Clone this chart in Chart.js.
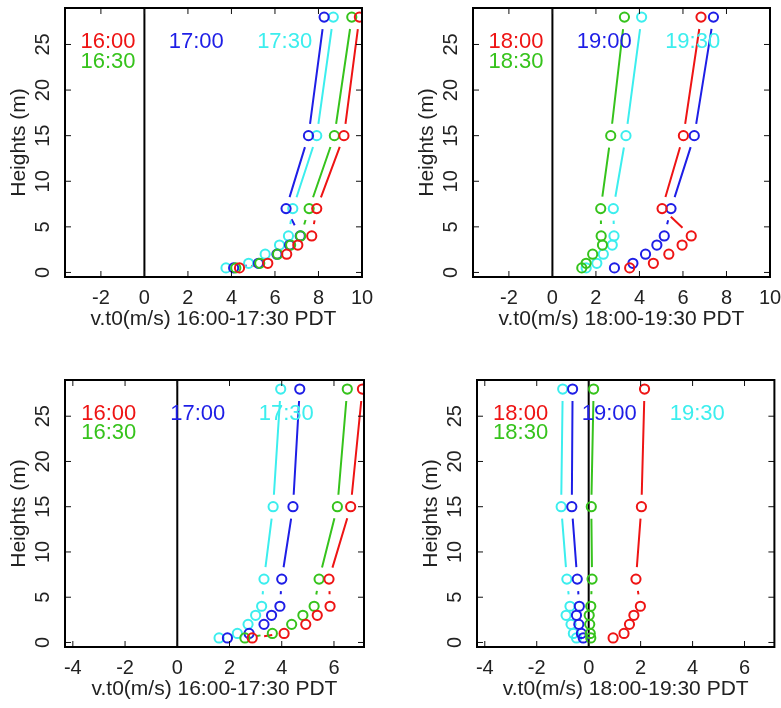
<!DOCTYPE html>
<html>
<head>
<meta charset="utf-8">
<script src="https://cdn.jsdelivr.net/npm/chart.js@4.4.1/dist/chart.umd.min.js"></script>
<style>
  html, body { margin: 0; padding: 0; background: #fff; }
  #wrap { position: relative; width: 781px; height: 708px; }
  canvas { position: absolute; }
</style>
</head>
<body>
<div id="wrap">
  <canvas id="p1" width="390" height="354" style="left:0;top:0"></canvas>
  <canvas id="p2" width="391" height="354" style="left:390px;top:0"></canvas>
  <canvas id="p3" width="390" height="354" style="left:0;top:354px"></canvas>
  <canvas id="p4" width="391" height="354" style="left:390px;top:354px"></canvas>
</div>
<script>
// measurement heights (m)
const heights = [0.5, 1, 2, 3, 4, 7, 15, 28];
const yTicks = [0, 5, 10, 15, 20, 25];
const xTicksTop = [-2, 0, 2, 4, 6, 8, 10];
const xTicksBottom = [-4, -2, 0, 2, 4, 6];

const namesEarly = ['16:00', '16:30', '17:00', '17:30'];
const namesLate = ['18:00', '18:30', '19:00', '19:30'];
const colors = ['#ee1414', '#36c31c', '#1e1ee6', '#3ceeee'];

// top row, v.t0 (m/s)
const a1600 = [4.37, 5.67, 6.54, 7.05, 7.69, 7.92, 9.17, 9.88];
const a1630 = [4.2, 5.3, 6.12, 6.72, 7.18, 7.57, 8.73, 9.53];
const a1700 = [4.1, 5.24, 6.09, 6.67, 7.16, 6.51, 7.54, 8.26];
const a1730 = [3.75, 4.79, 5.55, 6.21, 6.62, 6.82, 7.92, 8.68];

const b1800 = [3.55, 4.64, 5.35, 5.96, 6.38, 5.04, 6.02, 6.83];
const b1830 = [1.35, 1.55, 1.85, 2.3, 2.24, 2.22, 2.68, 3.31];
const b1900 = [2.85, 3.7, 4.28, 4.8, 5.14, 5.45, 6.52, 7.4];
const b1930 = [1.55, 2.04, 2.34, 2.75, 2.83, 2.8, 3.38, 4.1];

// bottom row
const c1600 = [2.87, 4.09, 4.92, 5.36, 5.85, 5.81, 6.64, 7.09];
const c1630 = [2.59, 3.64, 4.38, 4.81, 5.24, 5.43, 6.13, 6.51];
const c1700 = [1.92, 2.75, 3.32, 3.61, 3.93, 4.0, 4.43, 4.69];
const c1730 = [1.6, 2.3, 2.71, 3.0, 3.23, 3.32, 3.67, 3.96];

const d1800 = [0.94, 1.36, 1.57, 1.74, 1.99, 1.82, 2.03, 2.15];
const d1830 = [0.08, 0.06, 0.04, 0.02, 0.08, 0.13, 0.1, 0.19];
const d1900 = [-0.21, -0.28, -0.38, -0.47, -0.36, -0.44, -0.65, -0.62];
const d1930 = [-0.47, -0.59, -0.68, -0.87, -0.72, -0.84, -1.06, -1.0];

// where the time labels sit, in data units
const labelXTop = [-2.94, -2.94, 1.12, 5.18];
const labelXBottom = [-3.68, -3.68, -0.27, 3.12];
const labelY = [25.3, 23.1, 25.3, 25.3];

const FONT = '"Liberation Sans", Arial, Helvetica, sans-serif';
const GAP = 12;

// gnuplot-like frame, inward ticks, zero line, gapped segments, labels
const panelPlugin = {
  id: 'panel',
  beforeDatasetsDraw(chart) {
    const {ctx, chartArea: a, scales: {x}} = chart;
    ctx.save();
    ctx.beginPath();
    ctx.rect(a.left, a.top, a.right - a.left, a.bottom - a.top);
    ctx.clip();
    const x0 = x.getPixelForValue(0);
    ctx.strokeStyle = '#000';
    ctx.lineWidth = 2;
    ctx.beginPath();
    ctx.moveTo(x0, a.top);
    ctx.lineTo(x0, a.bottom);
    ctx.stroke();
    chart.data.datasets.forEach((ds, i) => {
      const pts = chart.getDatasetMeta(i).data;
      ctx.strokeStyle = ds.borderColor;
      ctx.lineWidth = 2;
      ctx.beginPath();
      for (let k = 0; k < pts.length - 1; k++) {
        const p = pts[k], q = pts[k + 1];
        const dx = q.x - p.x, dy = q.y - p.y;
        const d = Math.hypot(dx, dy);
        if (d <= 2 * GAP + 1) continue;
        const ux = dx / d, uy = dy / d;
        ctx.moveTo(p.x + ux * GAP, p.y + uy * GAP);
        ctx.lineTo(q.x - ux * GAP, q.y - uy * GAP);
      }
      ctx.stroke();
    });
    ctx.restore();
  },
  afterDatasetsDraw(chart, args, opts) {
    const {ctx, chartArea: a, scales: {x, y}} = chart;
    ctx.save();
    ctx.strokeStyle = '#111';
    ctx.lineWidth = 1;
    ctx.beginPath();
    x.ticks.forEach(t => {
      const px = x.getPixelForValue(t.value);
      ctx.moveTo(px, a.bottom); ctx.lineTo(px, a.bottom - 6);
      ctx.moveTo(px, a.top); ctx.lineTo(px, a.top + 6);
    });
    y.ticks.forEach(t => {
      const py = y.getPixelForValue(t.value);
      ctx.moveTo(a.left, py); ctx.lineTo(a.left + 6, py);
      ctx.moveTo(a.right, py); ctx.lineTo(a.right - 6, py);
    });
    ctx.stroke();
    ctx.strokeStyle = '#000';
    ctx.lineWidth = 2;
    ctx.strokeRect(a.left, a.top, a.right - a.left, a.bottom - a.top);

    ctx.font = '22px ' + FONT;
    ctx.textAlign = 'left';
    ctx.textBaseline = 'middle';
    opts.names.forEach((n, i) => {
      ctx.fillStyle = colors[i];
      ctx.fillText(n, x.getPixelForValue(opts.lx[i]), y.getPixelForValue(labelY[i]));
    });
    ctx.restore();
  }
};

function makePanel(id, series, names, xMin, xMax, xTickVals, lx, xTitle, box) {
  const datasets = series.map((vals, i) => ({
    label: names[i],
    data: vals.map((v, k) => ({x: v, y: heights[k]})),
    borderColor: colors[i],
    backgroundColor: 'rgba(0,0,0,0)',
    pointRadius: 4.6,
    pointBorderWidth: 2,
    showLine: false
  }));
  return new Chart(document.getElementById(id), {
    type: 'scatter',
    data: {datasets},
    options: {
      responsive: false,
      animation: false,
      devicePixelRatio: 1,
      layout: {
        padding: {
          left: box.left - 60,
          right: box.w - box.right,
          top: box.top,
          bottom: box.h - box.bottom - 60
        }
      },
      plugins: {
        legend: {display: false},
        tooltip: {enabled: false},
        panel: {names, lx}
      },
      scales: {
        x: {
          type: 'linear', min: xMin, max: xMax,
          grid: {display: false}, border: {display: false},
          afterBuildTicks: s => { s.ticks = xTickVals.map(v => ({value: v})); },
          afterFit: s => { s.height = 60; s.paddingLeft = 0; s.paddingRight = 0; },
          ticks: {color: '#222', font: {size: 20, family: FONT}, padding: 1, maxRotation: 0},
          title: {display: true, text: xTitle, color: '#222',
                  font: {size: 21, family: FONT}, padding: {top: 0, bottom: 5}}
        },
        y: {
          type: 'linear', min: -0.5, max: 29,
          grid: {display: false}, border: {display: false},
          afterBuildTicks: s => { s.ticks = yTicks.map(v => ({value: v})); },
          afterFit: s => { s.width = 60; s.paddingTop = 0; s.paddingBottom = 0; },
          ticks: {color: '#222', font: {size: 20, family: FONT}, padding: 2,
                  minRotation: 90, maxRotation: 90, crossAlign: 'center'},
          title: {display: true, text: 'Heights (m)', color: '#222',
                  font: {size: 21, family: FONT}, padding: {top: 1.4, bottom: 0}}
        }
      }
    },
    plugins: [panelPlugin]
  });
}

makePanel('p1', [a1600, a1630, a1700, a1730], namesEarly, -3.65, 10, xTicksTop, labelXTop,
  'v.t0(m/s) 16:00-17:30 PDT', {left: 65, right: 362, top: 8, bottom: 277, w: 390, h: 354});
makePanel('p2', [b1800, b1830, b1900, b1930], namesLate, -3.65, 10, xTicksTop, labelXTop,
  'v.t0(m/s) 18:00-19:30 PDT', {left: 83, right: 380, top: 8, bottom: 277, w: 391, h: 354});
makePanel('p3', [c1600, c1630, c1700, c1730], namesEarly, -4.3, 7.15, xTicksBottom, labelXBottom,
  'v.t0(m/s) 16:00-17:30 PDT', {left: 65, right: 364, top: 26, bottom: 293, w: 390, h: 354});
makePanel('p4', [d1800, d1830, d1900, d1930], namesLate, -4.3, 7.15, xTicksBottom, labelXBottom,
  'v.t0(m/s) 18:00-19:30 PDT', {left: 87, right: 385, top: 26, bottom: 293, w: 391, h: 354});
</script>
</body>
</html>
